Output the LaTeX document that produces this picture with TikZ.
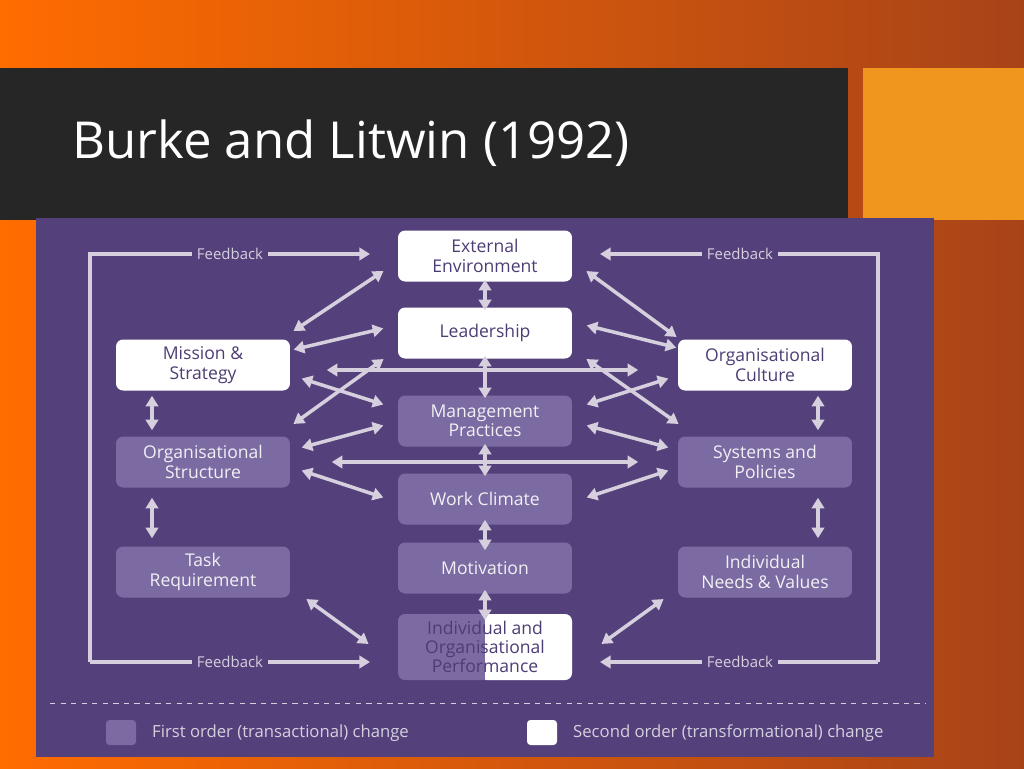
\documentclass[tikz,border=0pt]{standalone}
\usepackage{fontspec}
\setmainfont{Open Sans}
\usetikzlibrary{arrows.meta,positioning}
\definecolor{bgorange}{HTML}{D2541E}
\definecolor{bgdark}{HTML}{262626}
\definecolor{sqorange}{HTML}{F0961E}
\definecolor{panel}{HTML}{54417B}
\definecolor{boxlight}{HTML}{7C6BA2}
\definecolor{boxtext}{HTML}{4E3D74}
\definecolor{arrowgrey}{HTML}{D6D0DE}
\tikzset{
    box/.style={rounded corners=4pt,minimum width=3.48cm,minimum height=1.02cm,align=center,font=\fontsize{10}{11}\selectfont,inner sep=1pt},
    whitebox/.style={box,fill=white,text=boxtext},
    purplebox/.style={box,fill=boxlight,text=white!92!panel},
    darr/.style={<->,>={Triangle[width=7pt,length=6pt]},line width=2pt,arrowgrey,shorten <=1pt,shorten >=1pt},
    arr/.style={->,>={Triangle[width=7pt,length=6pt]},line width=2pt,arrowgrey},
    fb/.style={fill=panel,text=arrowgrey,font=\fontsize{8.5}{9}\selectfont,inner sep=3pt},
}
\begin{document}
\begin{tikzpicture}[x=0.02cm,y=-0.02cm]
    \useasboundingbox (0,0) rectangle (1024,768);
    \shade[left color=orange!85!red, right color=bgorange!80!black] (0,0) rectangle (1024,768);
    \fill[bgdark] (0,68) rectangle (848,220);
    \fill[sqorange] (863,68) rectangle (1024,220);
    \node[anchor=west,text=white,font=\fontsize{29}{34}\selectfont] (title) at (66,143) {Burke and Litwin (1992)};
    \fill[panel] (36,218) rectangle (934,757);

    % boxes
    \node[whitebox] (ext) at (485,256) {External\\Environment};
    \node[whitebox] (lead) at (485,333) {Leadership};
    \node[whitebox] (miss) at (203,365) {Mission \&\\Strategy};
    \node[whitebox] (cult) at (765,365) {Organisational\\Culture};
    \node[purplebox] (mgmt) at (485,421) {Management\\Practices};
    \node[purplebox] (struct) at (203,462) {Organisational\\Structure};
    \node[purplebox] (sys) at (765,462) {Systems and\\Policies};
    \node[purplebox] (clim) at (485,499) {Work Climate};
    \node[purplebox] (task) at (203,572) {Task\\Requirement};
    \node[purplebox] (motiv) at (485,568) {Motivation};
    \node[purplebox] (needs) at (765,572) {Individual\\Needs \& Values};
    \fill[rounded corners=4pt,boxlight] (398,614) rectangle (572,680);
    \fill[white,rounded corners=4pt] (480,614) rectangle (572,680);
    \fill[boxlight] (470,614) rectangle (485,680);
    \node[box,minimum height=1.32cm,text=boxtext] (perf) at (485,647) {Individual and\\Organisational\\Performance};

    % vertical links
    \draw[darr] (485,278) -- (485,312);
    \draw[darr] (485,354) -- (485,400);
    \draw[darr] (485,442) -- (485,478);
    \draw[darr] (485,518) -- (485,552);
    \draw[darr] (485,588) -- (485,622);
    \draw[darr] (152,394) -- (152,432);
    \draw[darr] (152,496) -- (152,540);
    \draw[darr] (818,394) -- (818,432);
    \draw[darr] (818,496) -- (818,540);

    % diagonal links
    \draw[darr] (385,270) -- (292,332);
    \draw[darr] (585,270) -- (678,338);
    \draw[darr] (385,328) -- (292,350);
    \draw[darr] (585,325) -- (678,348);
    \draw[darr] (385,358) -- (292,425);
    \draw[darr] (585,358) -- (680,425);
    \draw[darr] (325,370) -- (640,370);
    \draw[darr] (300,378) -- (385,405);
    \draw[darr] (670,378) -- (585,405);
    \draw[darr] (385,425) -- (300,448);
    \draw[darr] (585,425) -- (670,448);
    \draw[darr] (330,462) -- (640,462);
    \draw[darr] (300,470) -- (385,498);
    \draw[darr] (670,470) -- (585,498);
    \draw[darr] (305,598) -- (370,645);
    \draw[darr] (665,598) -- (600,645);

    % feedback loops
    \draw[arr] (90,662) -- (90,254) -- (370,254);
    \draw[arr] (90,662) -- (370,662);
    \draw[arr] (878,662) -- (878,254) -- (600,254);
    \draw[arr] (878,662) -- (600,662);
    \node[fb] (fb1) at (230,254) {Feedback};
    \node[fb] (fb2) at (230,662) {Feedback};
    \node[fb] (fb3) at (740,254) {Feedback};
    \node[fb] (fb4) at (740,662) {Feedback};

    % legend
    \draw[arrowgrey,dashed,thin] (50,703) -- (925,703);
    \fill[boxlight,rounded corners=2pt] (106,720) rectangle (136,745);
    \node[anchor=west,text=arrowgrey,font=\fontsize{9.5}{10}\selectfont] (first) at (146,733) {First order (transactional) change};
    \fill[white,rounded corners=2pt] (527,720) rectangle (557,745);
    \node[anchor=west,text=arrowgrey,font=\fontsize{9.5}{10}\selectfont] (second) at (567,733) {Second order (transformational) change};
\end{tikzpicture}
\end{document}
